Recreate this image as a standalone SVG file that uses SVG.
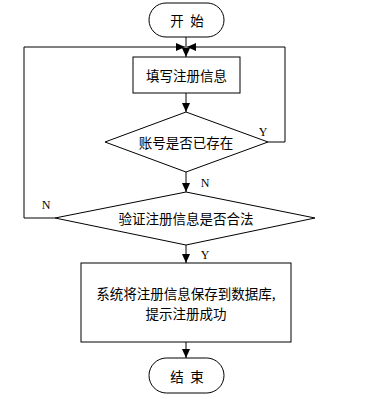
<svg xmlns="http://www.w3.org/2000/svg" width="390" height="399" viewBox="0 0 390 399">
<defs>
<marker id="arr" markerWidth="10" markerHeight="8" refX="9" refY="4" orient="auto" markerUnits="userSpaceOnUse">
<path d="M0,0 L9,4 L0,8 Z" fill="#000"/>
</marker>
<style>
.shape{fill:#fff;stroke:#000;stroke-width:1}
.line{fill:none;stroke:#000;stroke-width:1}
.t{font-family:"Noto Sans CJK SC","Liberation Sans",sans-serif;font-size:13.5px;fill:#000;text-anchor:middle;dominant-baseline:central}
.lbl{font-family:"Liberation Serif",serif;font-size:12px;fill:#000;text-anchor:middle;dominant-baseline:central}
</style>
</defs>
<rect width="390" height="399" fill="#fff"/>
<g id="connectors">
<line class="line" x1="186" y1="37" x2="186" y2="57" marker-end="url(#arr)"/>
<line class="line" x1="186" y1="93" x2="186" y2="112" marker-end="url(#arr)"/>
<polyline class="line" points="268,142 285,142 285,47 187,47" marker-end="url(#arr)"/>
<line class="line" x1="186" y1="172" x2="186" y2="192" marker-end="url(#arr)"/>
<polyline class="line" points="55,218 24,218 24,47 185,47" marker-end="url(#arr)"/>
<line class="line" x1="186" y1="245" x2="186" y2="263" marker-end="url(#arr)"/>
<line class="line" x1="186" y1="342" x2="186" y2="358" marker-end="url(#arr)"/>
<text class="lbl" x="263" y="132">Y</text>
<text class="lbl" x="205" y="183">N</text>
<text class="lbl" x="46" y="205">N</text>
<text class="lbl" x="205" y="255">Y</text>
</g>
<g id="start">
<rect class="shape" x="149" y="3" width="75" height="34" rx="17" ry="17"/>
<text class="t" y="20"><tspan x="177">开</tspan><tspan x="197">始</tspan></text>
</g>
<g id="fill-info">
<rect class="shape" x="133" y="57" width="107" height="36"/>
<text class="t" x="186.5" y="75">填写注册信息</text>
</g>
<g id="check-account">
<polygon class="shape" points="186,112 268,142 186,172 105,142"/>
<text class="t" x="186" y="142">账号是否已存在</text>
</g>
<g id="validate">
<polygon class="shape" points="186,192 315,218 186,245 55,218"/>
<text class="t" x="186" y="218">验证注册信息是否合法</text>
</g>
<g id="save">
<rect class="shape" x="81" y="263" width="210" height="79"/>
<text class="t" x="186" y="293">系统将注册信息保存到数据库,</text>
<text class="t" x="186" y="313">提示注册成功</text>
</g>
<g id="end">
<rect class="shape" x="149" y="358" width="75" height="35" rx="17.5" ry="17.5"/>
<text class="t" y="375.5"><tspan x="177">结</tspan><tspan x="197">束</tspan></text>
</g>
</svg>
